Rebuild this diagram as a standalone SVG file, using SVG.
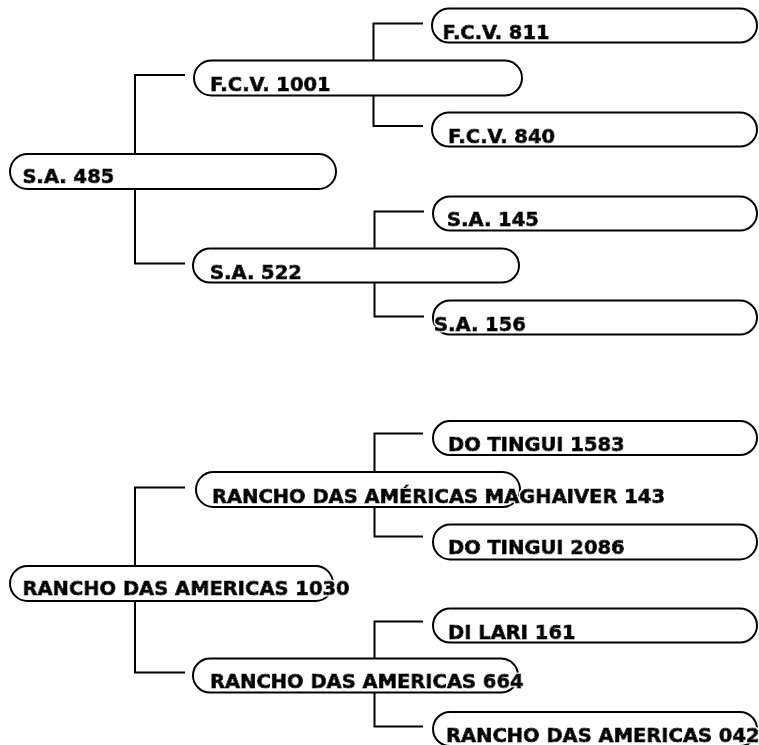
<svg xmlns="http://www.w3.org/2000/svg" width="759" height="745" viewBox="0 0 759 745">
<defs>
<filter id="halo" x="-5%" y="-30%" width="110%" height="160%">
<feMorphology in="SourceAlpha" operator="dilate" radius="1.2" result="d"/>
<feFlood flood-color="#fff"/>
<feComposite in2="d" operator="in" result="w"/>
<feMerge><feMergeNode in="w"/><feMergeNode in="SourceGraphic"/></feMerge>
</filter>
</defs>
<style>
.box{fill:#fff;stroke:#000;stroke-width:2}
.lbl{font-family:"DejaVu Sans",Verdana,sans-serif;font-weight:bold;font-size:19.5px;fill:#000;stroke:#000;stroke-width:1;stroke-linejoin:round;filter:url(#halo)}
.con{fill:none;stroke:#000;stroke-width:2}
</style>
<rect width="759" height="745" fill="#fff"/>
<g id="connectors" class="con">
<path d="M185,75 H135 V154"/>
<path d="M135,189 V263.5 H185"/>
<path d="M423,23.5 H373.5 V60.5"/>
<path d="M373.5,95.5 V126 H423"/>
<path d="M424,211.5 H374.5 V248.5"/>
<path d="M374.5,282.5 V316.5 H424"/>
<path d="M185,487.5 H135 V566"/>
<path d="M135,601 V672.5 H185"/>
<path d="M423,433.5 H374.5 V472"/>
<path d="M374.5,507 V536.5 H423"/>
<path d="M423,621.5 H374.5 V658.5"/>
<path d="M374.5,692.5 V726.5 H423"/>
</g>
<g id="n-sa485"><rect class="box" x="10" y="154" width="326" height="35" rx="17.5"/><text class="lbl" x="22.5" y="183">S.A. 485</text></g>
<g id="n-fcv1001"><rect class="box" x="194" y="60.5" width="328" height="35" rx="17.5"/><text class="lbl" x="210" y="91">F.C.V. 1001</text></g>
<g id="n-fcv811"><rect class="box" x="432" y="8.5" width="325" height="34" rx="17"/><text class="lbl" x="442.5" y="39">F.C.V. 811</text></g>
<g id="n-fcv840"><rect class="box" x="432" y="112.5" width="325" height="34" rx="17"/><text class="lbl" x="448" y="143">F.C.V. 840</text></g>
<g id="n-sa522"><rect class="box" x="193" y="248.5" width="326" height="34" rx="17"/><text class="lbl" x="210" y="279">S.A. 522</text></g>
<g id="n-sa145"><rect class="box" x="433" y="196.5" width="324" height="34" rx="17"/><text class="lbl" x="447" y="226">S.A. 145</text></g>
<g id="n-sa156"><rect class="box" x="433" y="300.5" width="324" height="34" rx="17"/><text class="lbl" x="434" y="331">S.A. 156</text></g>
<g id="n-ra1030"><rect class="box" x="10" y="566" width="323" height="35" rx="17.5"/><text class="lbl" x="22.5" y="594.5">RANCHO DAS AMERICAS 1030</text></g>
<g id="n-maghaiver"><rect class="box" x="196" y="472" width="324" height="35" rx="17.5"/><text class="lbl" x="212" y="503">RANCHO DAS AMÉRICAS MAGHAIVER 143</text></g>
<g id="n-dt1583"><rect class="box" x="433" y="421" width="324" height="34" rx="17"/><text class="lbl" x="448" y="451">DO TINGUI 1583</text></g>
<g id="n-dt2086"><rect class="box" x="433" y="524.5" width="324" height="35" rx="17.5"/><text class="lbl" x="448" y="554">DO TINGUI 2086</text></g>
<g id="n-ra664"><rect class="box" x="193" y="658.5" width="325" height="34" rx="17"/><text class="lbl" x="210" y="687.5">RANCHO DAS AMERICAS 664</text></g>
<g id="n-dl161"><rect class="box" x="433" y="608.5" width="324" height="34" rx="17"/><text class="lbl" x="448" y="638.5">DI LARI 161</text></g>
<g id="n-ra042"><rect class="box" x="433" y="712" width="324" height="34" rx="17"/><text class="lbl" x="446" y="741.5">RANCHO DAS AMERICAS 042</text></g>
</svg>
